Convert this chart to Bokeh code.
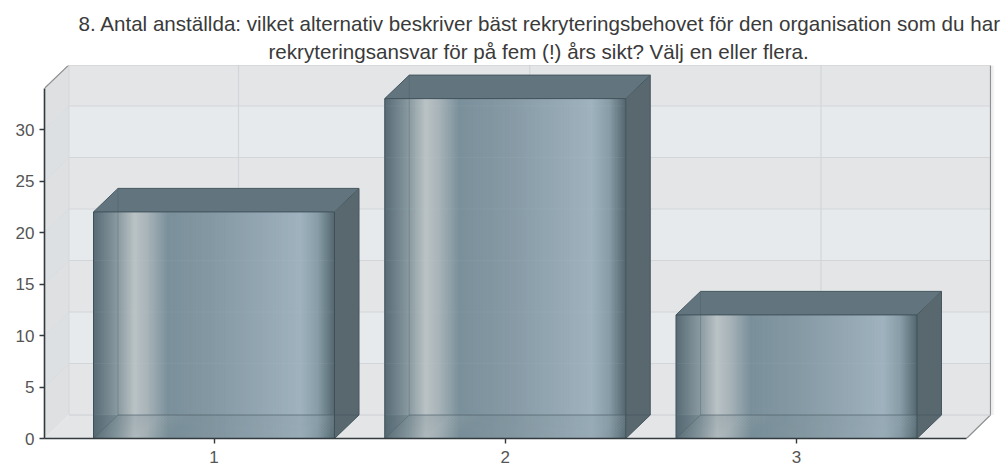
from bokeh.embed import file_html
from bokeh.models import FixedTicker, Range1d, Title
from bokeh.plotting import figure
from bokeh.resources import INLINE

# Survey results
categories = [1, 2, 3]
counts = [22, 33, 12]
y_ticks = [0, 5, 10, 15, 20, 25, 30]
title_lines = [
    "8. Antal anställda: vilket alternativ beskriver bäst rekryteringsbehovet för den organisation som du har",
    "rekryteringsansvar för på fem (!) års sikt? Välj en eller flera.",
]

# Drawing scale of the pseudo 3D box
PX_PER_CAT = 291.25
PX_PER_UNIT = 10.3
FRAME_W, FRAME_H = 952, 373
X_START = 1 - (213.5 - 44) / PX_PER_CAT
X_END = X_START + FRAME_W / PX_PER_CAT
X_WALL = X_START + 946 / PX_PER_CAT
Y_END = FRAME_H / PX_PER_UNIT
Y_AXIS_TOP = 34
FLOOR_RIGHT = X_START + 922 / PX_PER_CAT
DX = 24.5 / PX_PER_CAT
DY = 23.5 / PX_PER_UNIT
HALF_BAR = 120.5 / PX_PER_CAT

# Horizontal shading across a bar's front: (position, colour)
BAR_STOPS = [
    (0.00, (88, 108, 118)), (0.10, (138, 154, 161)), (0.17, (186, 194, 197)),
    (0.22, (170, 181, 186)), (0.31, (122, 144, 155)), (0.50, (133, 153, 164)),
    (0.86, (159, 178, 190)), (0.93, (136, 157, 168)), (1.00, (84, 103, 111)),
]


def shade(t):
    for (t0, c0), (t1, c1) in zip(BAR_STOPS, BAR_STOPS[1:]):
        if t <= t1:
            k = (t - t0) / (t1 - t0)
            r, g, b = (round(a + (b - a) * k) for a, b in zip(c0, c1))
            return f"#{r:02x}{g:02x}{b:02x}"
    return "#54676f"


p = figure(
    width=1005, height=468, output_backend="svg", toolbar_location=None,
    frame_width=FRAME_W, frame_height=FRAME_H,
    min_border_left=44, min_border_right=9, min_border_top=65, min_border_bottom=30,
    x_range=Range1d(X_START, X_END), y_range=Range1d(0, Y_END),
    background_fill_color="white", border_fill_color="white",
    outline_line_color=None,
)
p.grid.visible = False

# Walls of the box: back wall with alternating bands, side wall, floor
band_edges = y_ticks + [Y_AXIS_TOP]
for i, (lo, hi) in enumerate(zip(band_edges, band_edges[1:])):
    wall = "#e4e5e6" if i % 2 == 0 else "#e6eaed"
    side = "#dfe0e2" if i % 2 == 0 else "#dde0e3"
    p.quad(left=X_START + DX, right=X_WALL, bottom=lo + DY, top=hi + DY,
           fill_color=wall, line_color=None)
    p.patch([X_START, X_START + DX, X_START + DX, X_START],
            [lo, lo + DY, hi + DY, hi], fill_color=side, line_color=None)
p.patch([X_START, X_START + DX, X_WALL, FLOOR_RIGHT], [0, DY, DY, 0],
        fill_color="#e3e5e7", line_color=None)

# Soft shadow outside the right wall
for k, alpha in enumerate([0.16, 0.09, 0.04]):
    off = (1.5 + k) / PX_PER_CAT
    p.line([X_WALL + off, X_WALL + off], [DY, Y_AXIS_TOP + DY], line_color="#777777",
           line_alpha=alpha, line_width=1)

# Grid lines on the walls
grid_color = "#d3d6d9"
p.segment(x0=X_START + DX, x1=X_WALL, y0=[v + DY for v in y_ticks], y1=[v + DY for v in y_ticks],
          line_color=grid_color, line_width=1.2)
p.segment(x0=[c + DX for c in categories], x1=[c + DX for c in categories],
          y0=DY, y1=Y_AXIS_TOP + DY, line_color=grid_color, line_width=1.2)
p.segment(x0=X_START, x1=X_START + DX, y0=y_ticks[1:], y1=[v + DY for v in y_ticks[1:]],
          line_color="#d8dbde", line_width=1)

# Box outline at the top, the right and along the open corners
edge = "#8f9192"
p.line([X_START, X_START + DX, X_WALL, X_WALL, FLOOR_RIGHT],
       [Y_AXIS_TOP, Y_AXIS_TOP + DY, Y_AXIS_TOP + DY, DY, 0], line_color=edge, line_width=1.2)
p.line([X_START + DX, X_START + DX], [DY, Y_AXIS_TOP + DY], line_color="#d4d7da", line_width=1)
p.line([X_START + DX, X_WALL], [DY, DY], line_color="#d4d7da", line_width=1)

# Bars: shaded front, floor seen through it, top and side faces, and edges
STRIPS = 160
for c, v in zip(categories, counts):
    x0, x1 = c - HALF_BAR, c + HALF_BAR
    w = (x1 - x0) / STRIPS
    fractions = [(i + 0.5) / STRIPS for i in range(STRIPS)]
    lefts = [x0 + i * w for i in range(STRIPS)]
    colors = [shade(t) for t in fractions]
    p.quad(left=lefts, right=[min(l + w * 1.6, x1) for l in lefts], bottom=0, top=v,
           fill_color=colors, line_color=None)

    # Faint wall grid showing through the translucent bar
    seen = [t + DY for t in y_ticks if t + DY < v]
    p.segment(x0=x0, x1=x1, y0=seen, y1=seen, line_color="#dfe3e6", line_alpha=0.05, line_width=1.2)

    # Floor of the bar
    p.patch([x0, x1, x1 + DX, x0 + DX], [0, 0, DY, DY], fill_color="#6f8590",
            fill_alpha=0.15, line_color=None)
    p.patches(
        [[l, l + w * 1.6, l + w * 1.6 + DX, l + DX] for l in lefts[::2]],
        [[0, 0, DY, DY] for _ in lefts[::2]],
        fill_color=colors[::2], fill_alpha=0.22, line_color=None,
    )
    p.patch([x0, x0 + DX, x0], [0, DY, DY], fill_color="#4f636c", fill_alpha=0.3, line_color=None)

    # Top and right faces
    p.patch([x0, x0 + DX, x1 + DX, x1], [v, v + DY, v + DY, v],
            fill_color="#62757f", line_color=None)
    p.patch([x1, x1 + DX, x1 + DX, x1], [0, DY, v + DY, v],
            fill_color="#59686f", line_color=None)

    # Back edges seen through the bar, then the front edges
    back = "#43555e"
    p.line([x0 + DX, x0 + DX], [DY, v + DY], line_color=back, line_alpha=0.3, line_width=1)
    p.line([x0 + DX, x1 + DX], [DY, DY], line_color=back, line_alpha=0.6, line_width=1)
    p.line([x0, x0 + DX], [0, DY], line_color=back, line_alpha=0.3, line_width=1)
    p.line([x0, x0 + DX, x1 + DX, x1 + DX, x1], [v, v + DY, v + DY, DY, 0],
           line_color="#46575f", line_width=1)
    p.line([x1, x1 + DX], [v, v + DY], line_color="#46575f", line_width=1)
    p.line([x0, x0, x1, x1], [0, v, v, 0], line_color="#3f5059", line_width=1)

# Axes
tick_font = "Liberation Sans"
for ax in (p.xaxis[0], p.yaxis[0]):
    ax.major_label_text_font = tick_font
    ax.major_label_text_font_size = "17px"
    ax.major_label_text_color = "#555555"
    ax.axis_line_color = "#333a3e"
    ax.axis_line_width = 1.6
    ax.major_tick_line_color = "#333a3e"
    ax.major_tick_line_width = 1.4
    ax.major_tick_in = 0
    ax.major_tick_out = 5
    ax.minor_tick_line_color = None
p.xaxis[0].ticker = FixedTicker(ticks=categories)
p.xaxis[0].bounds = (X_START, FLOOR_RIGHT)
p.xaxis[0].major_label_standoff = 7
p.yaxis[0].ticker = FixedTicker(ticks=y_ticks)
p.yaxis[0].bounds = (0, Y_AXIS_TOP)
p.yaxis[0].major_label_standoff = 5


# Two-line heading, one title per line
def style_title(t, offset, standoff):
    t.align = "left"
    t.offset = offset
    t.text_font = tick_font
    t.text_font_size = "20.6px"
    t.text_font_style = "normal"
    t.text_color = "#3a3a3a"
    t.standoff = standoff


style_title(p.title, 34, 1)
p.title.text = title_lines[0]
second_line = Title(text=title_lines[1])
style_title(second_line, 224, 5)
p.add_layout(second_line, "above")

open("out.html", "w").write(file_html(p, INLINE))
